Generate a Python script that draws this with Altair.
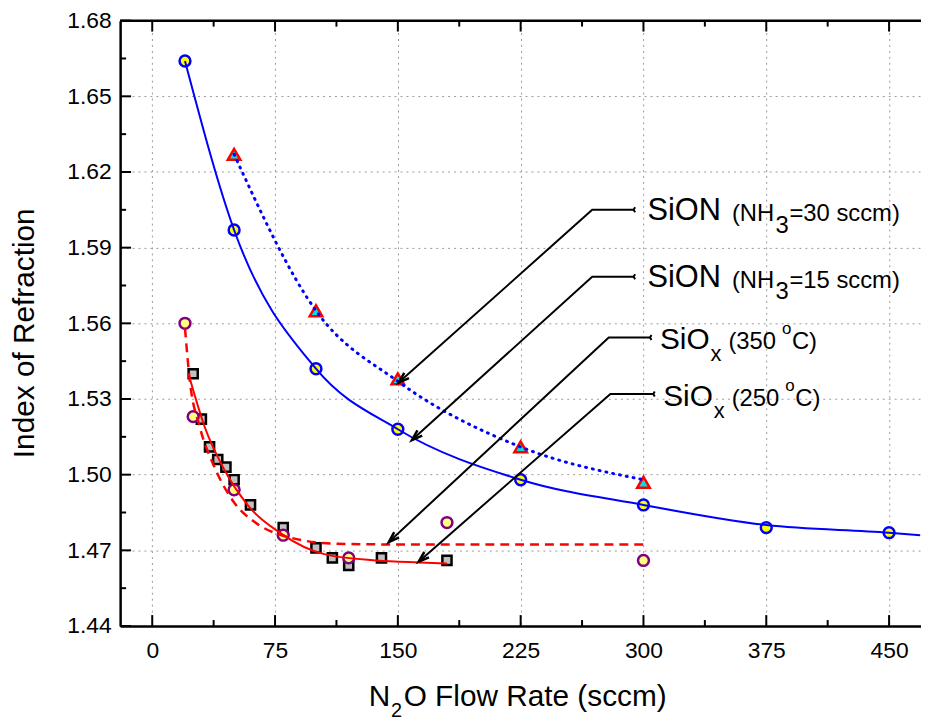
import math
import altair as alt
import pandas as pd

# ---------------- data ----------------
# measured points
sion15_x = [20, 50, 100, 150, 225, 300, 375, 450]
sion15_y = [1.664, 1.597, 1.542, 1.518, 1.498, 1.488, 1.479, 1.477]
sion30_x = [50, 100, 150, 225, 300]
sion30_y = [1.627, 1.565, 1.538, 1.511, 1.497]
siox350_x = [20, 25, 50, 80, 120, 180, 300]
siox350_y = [1.560, 1.523, 1.494, 1.476, 1.467, 1.481, 1.466]
siox250_x = [25, 30, 35, 40, 45, 50, 60, 80, 100, 110, 120, 140, 180]
siox250_y = [1.540, 1.522, 1.511, 1.506, 1.503, 1.498, 1.488, 1.479, 1.471,
             1.467, 1.464, 1.467, 1.466]

# fitted curves, points
fit15_x = [20, 50, 100, 150, 225, 300, 375, 450, 469]
fit15_y = [1.664, 1.597, 1.542, 1.518, 1.498, 1.488, 1.480, 1.477, 1.476]
fit30_x = [50, 100, 150, 225, 300]
fit30_y = [1.627, 1.565, 1.537, 1.511, 1.498]
fit350_x = [20, 23, 29, 38, 50, 63, 79, 113, 160, 300]
fit350_y = [1.558, 1.537, 1.519, 1.503, 1.489, 1.481, 1.476, 1.4726, 1.4723, 1.4723]
fit250_x = [23, 32, 44, 57, 79, 105, 137, 163, 180]
fit250_y = [1.538, 1.519, 1.502, 1.489, 1.4765, 1.4685, 1.466, 1.4652, 1.4648]

# annotation arrows (data coordinates): label end -> elbow -> tip
arrow_id = ["a1", "a2", "a3", "a4"]
arrow_start_x = [294, 294, 304, 306]
arrow_start_y = [1.605, 1.5785, 1.5544, 1.532]
arrow_elbow_x = [268.7, 268.7, 278.8, 279.8]
arrow_tip_x = [150.5, 158.6, 144.5, 162.7]
arrow_tip_y = [1.5365, 1.5137, 1.4733, 1.4655]

sion_rest = ["=30 sccm)", "=15 sccm)"]
siox_temp = ["(350", "(250"]

# axes
x_major = [0, 75, 150, 225, 300, 375, 450]
x_minor = [37.5, 112.5, 187.5, 262.5, 337.5, 412.5]
y_major = [1.44, 1.47, 1.50, 1.53, 1.56, 1.59, 1.62, 1.65, 1.68]
y_minor = [1.455, 1.485, 1.515, 1.545, 1.575, 1.605, 1.635, 1.665]

# ---------------- chart ----------------
W, H = 807, 610
X0, X1 = -19.6, 469.5
Y0, Y1 = 1.44, 1.68
FONT = "Liberation Sans"

xs = alt.Scale(domain=[X0, X1], nice=False, zero=False)
ys = alt.Scale(domain=[Y0, Y1], nice=False, zero=False)

x_axis = alt.Axis(values=x_major, grid=True, gridDash=[2, 4], gridColor="#9a9a9a",
                  gridWidth=1, ticks=False, domainColor="black", domainWidth=2.5,
                  labelFont=FONT, labelFontSize=23, labelColor="black", labelPadding=14,
                  labelFlush=False, title=None)
y_axis = alt.Axis(values=y_major, format=".2f", grid=True, gridDash=[2, 4],
                  gridColor="#9a9a9a", gridWidth=1, ticks=False, domainColor="black",
                  domainWidth=2.5, labelFont=FONT, labelFontSize=23, labelColor="black",
                  labelPadding=9, title=None)


def XE(f="x"):
    return alt.X(f"{f}:Q", scale=xs, axis=x_axis)


def YE(f="y"):
    return alt.Y(f"{f}:Q", scale=ys, axis=y_axis)


def df_xy(xv, yv):
    return pd.DataFrame({"x": xv, "y": yv})


def enc():
    return dict(x=XE(), y=YE())


one = pd.DataFrame({"a": [0]})
layers = []

# top frame line
layers.append(alt.Chart(one).mark_rule(color="black", strokeWidth=2.5).encode(
    x=alt.value(0), x2=alt.value(W), y=alt.value(0)))

# inward ticks
dxmaj = pd.DataFrame({"v": x_major})
dxmin = pd.DataFrame({"v": x_minor})
dymaj = pd.DataFrame({"v": y_major})
dymin = pd.DataFrame({"v": y_minor})
for d, ln in ((dxmaj, 11), (dxmin, 6)):
    layers.append(alt.Chart(d).mark_rule(color="black", strokeWidth=2).encode(
        x=XE("v"), y=alt.value(H), y2=alt.value(H - ln)))
    layers.append(alt.Chart(d).mark_rule(color="black", strokeWidth=2).encode(
        x=XE("v"), y=alt.value(0), y2=alt.value(ln)))
for d, ln in ((dymaj, 11), (dymin, 6)):
    layers.append(alt.Chart(d).mark_rule(color="black", strokeWidth=2).encode(
        y=YE("v"), x=alt.value(0), x2=alt.value(ln)))

# markers
layers.append(alt.Chart(df_xy(siox250_x, siox250_y)).mark_point(
    shape="square", filled=True, fill="#c0c0c0", stroke="black", strokeWidth=2.5,
    size=85, opacity=1, strokeOpacity=1, fillOpacity=1).encode(**enc()))
layers.append(alt.Chart(df_xy(siox350_x, siox350_y)).mark_point(
    shape="circle", filled=True, fill="#ffff80", stroke="#800080", strokeWidth=2.5,
    size=120, opacity=1, strokeOpacity=1, fillOpacity=1).encode(**enc()))
layers.append(alt.Chart(df_xy(sion15_x, sion15_y)).mark_point(
    shape="circle", filled=True, fill="#ffff00", stroke="#0000ff", strokeWidth=2.5,
    size=120, opacity=1, strokeOpacity=1, fillOpacity=1).encode(**enc()))
layers.append(alt.Chart(df_xy(sion30_x, sion30_y)).mark_point(
    shape="triangle-up", filled=True, fill="#00e0e0", stroke="#ff0000", strokeWidth=2.5,
    size=160, opacity=1, strokeOpacity=1, fillOpacity=1).encode(**enc()))

# fit curves
layers.append(alt.Chart(df_xy(fit15_x, fit15_y)).mark_line(
    color="#0000ff", strokeWidth=2, interpolate="monotone", clip=True).encode(**enc()))
layers.append(alt.Chart(df_xy(fit30_x, fit30_y)).mark_line(
    color="#0000ff", strokeWidth=3, strokeDash=[1, 6], strokeCap="round",
    interpolate="monotone").encode(**enc()))
layers.append(alt.Chart(df_xy(fit350_x, fit350_y)).mark_line(
    color="#ff0000", strokeWidth=2.5, strokeDash=[9, 6],
    interpolate="monotone").encode(**enc()))
layers.append(alt.Chart(df_xy(fit250_x, fit250_y)).mark_line(
    color="#ff0000", strokeWidth=2, interpolate="monotone").encode(**enc()))

# arrows
rows = []
for i, a in enumerate(arrow_id):
    rows.append({"id": a, "o": 0, "x": arrow_start_x[i], "y": arrow_start_y[i]})
    rows.append({"id": a, "o": 1, "x": arrow_elbow_x[i], "y": arrow_start_y[i]})
    rows.append({"id": a, "o": 2, "x": arrow_tip_x[i], "y": arrow_tip_y[i]})
arr = pd.DataFrame(rows)
layers.append(alt.Chart(arr).mark_line(color="black", strokeWidth=2).encode(
    **enc(), detail="id:N", order="o:Q"))

sx = W / (X1 - X0)
sy = H / (Y1 - Y0)
heads = []
for i, a in enumerate(arrow_id):
    dxp = (arrow_tip_x[i] - arrow_elbow_x[i]) * sx
    dyp = -(arrow_tip_y[i] - arrow_start_y[i]) * sy
    ang = math.degrees(math.atan2(dxp, -dyp)) % 360
    heads.append({"x": arrow_tip_x[i], "y": arrow_tip_y[i], "ang": ang})
heads = pd.DataFrame(heads)
layers.append(alt.Chart(heads).mark_point(
    shape="M-0.4,1.2L0,0L0.4,1.2", filled=False, stroke="black", strokeWidth=2.5,
    size=320, opacity=1).encode(**enc(), angle=alt.Angle("ang:Q", scale=None)))

starts = pd.DataFrame({"x": arrow_start_x, "y": arrow_start_y})
layers.append(alt.Chart(starts).mark_point(
    shape="M0.6,-1L0,0L0.6,1", filled=False, stroke="black", strokeWidth=2,
    size=25, opacity=1).encode(**enc()))

# annotation labels
sion = pd.DataFrame({"x": arrow_start_x[:2], "y": arrow_start_y[:2], "rest": sion_rest})
siox = pd.DataFrame({"x": arrow_start_x[2:], "y": arrow_start_y[2:], "temp": siox_temp})


def txt(d, text, size, dx, dy, field=None):
    kw = dict(font=FONT, fontSize=size, align="left", baseline="alphabetic",
              color="black", dx=dx, dy=dy)
    if field:
        return alt.Chart(d).mark_text(**kw).encode(**enc(), text=f"{field}:N")
    return alt.Chart(d).mark_text(text=text, **kw).encode(**enc())


layers += [
    txt(sion, "SiON", 31, 14, 10.5),
    txt(sion, "(NH", 24, 99, 11),
    txt(sion, "3", 24, 143, 23),
    txt(sion, None, 24, 157, 11, field="rest"),
    txt(siox, "SiO", 30, 10, 12),
    txt(siox, "x", 22, 61, 24),
    txt(siox, None, 24, 79, 12, field="temp"),
    txt(siox, "o", 17, 133, -3),
    txt(siox, "C)", 24, 143, 12),
]

# axis titles
layers.append(alt.Chart(one).mark_text(
    text="Index of Refraction", angle=270, font=FONT, fontSize=30, align="center",
    baseline="middle", color="black").encode(x=alt.value(-96), y=alt.value(315)))
for t, fs, px, py in (("N", 30, 250.5, 690.5), ("2", 20, 273, 702),
                      ("O Flow Rate (sccm)", 30, 285.7, 690.5)):
    layers.append(alt.Chart(one).mark_text(
        text=t, font=FONT, fontSize=fs, align="left", baseline="alphabetic",
        color="black").encode(x=alt.value(px), y=alt.value(py)))

chart = alt.layer(*layers).properties(
    width=W, height=H,
    padding={"left": 113, "top": 10, "right": 0, "bottom": 95},
    autosize=alt.AutoSizeParams(type="none"),
).configure_view(stroke=None).configure(background="white")

chart.save("out.html", embed_options={"renderer": "svg", "actions": False})
